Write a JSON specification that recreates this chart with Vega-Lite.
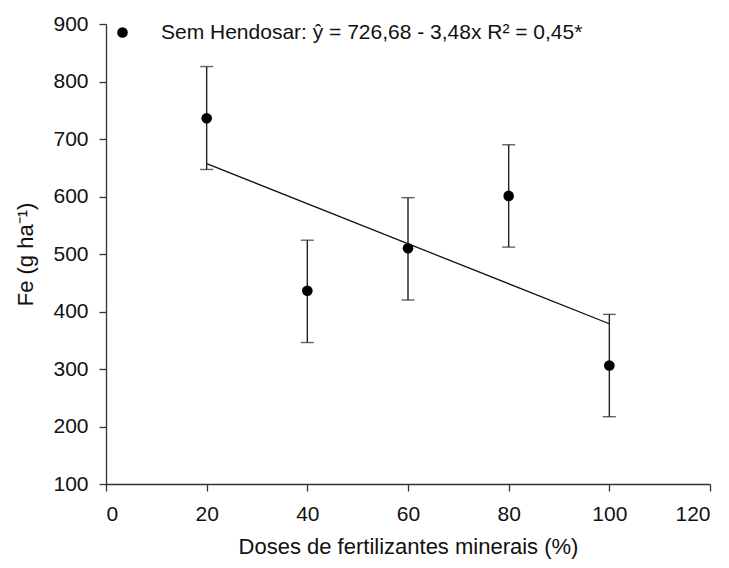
{
  "$schema": "https://vega.github.io/schema/vega-lite/v6.json",
  "width": 604,
  "height": 460,
  "autosize": "none",
  "padding": {"left": 106, "top": 24, "right": 19, "bottom": 84},
  "background": "white",
  "config": {
    "view": {"stroke": null},
    "font": "Liberation Sans",
    "axis": {
      "grid": false,
      "domainColor": "#333",
      "tickColor": "#333",
      "labelColor": "#111",
      "titleColor": "#111",
      "labelFontSize": 21,
      "titleFontSize": 22,
      "titleFontWeight": "normal",
      "tickSize": 7,
      "domainWidth": 1.3,
      "tickWidth": 1.3,
      "labelFont": "Liberation Sans",
      "titleFont": "Liberation Sans"
    }
  },
  "datasets": {
    "obs": [
      {"dose": 20, "fe": 736, "lo": 647, "hi": 826, "serie": "Sem Hendosar: ŷ = 726,68 - 3,48x R² = 0,45*"},
      {"dose": 40, "fe": 436, "lo": 346, "hi": 524, "serie": "Sem Hendosar: ŷ = 726,68 - 3,48x R² = 0,45*"},
      {"dose": 60, "fe": 510, "lo": 420, "hi": 598, "serie": "Sem Hendosar: ŷ = 726,68 - 3,48x R² = 0,45*"},
      {"dose": 80, "fe": 601, "lo": 512, "hi": 690, "serie": "Sem Hendosar: ŷ = 726,68 - 3,48x R² = 0,45*"},
      {"dose": 100, "fe": 306, "lo": 217, "hi": 395, "serie": "Sem Hendosar: ŷ = 726,68 - 3,48x R² = 0,45*"}
    ],
    "fit": [
      {"dose": 20, "fe": 657.08},
      {"dose": 100, "fe": 378.68}
    ]
  },
  "layer": [
    {
      "data": {"name": "fit"},
      "mark": {"type": "line", "color": "#111", "strokeWidth": 1.3},
      "encoding": {
        "x": {"field": "dose", "type": "quantitative", "scale": {"domain": [0, 120]}, "axis": {"values": [0, 20, 40, 60, 80, 100, 120], "title": "Doses de fertilizantes minerais (%)", "titlePadding": 12, "labelPadding": 12}},
        "y": {"field": "fe", "type": "quantitative", "scale": {"domain": [100, 900]}, "axis": {"values": [100, 200, 300, 400, 500, 600, 700, 800, 900], "title": "Fe (g ha⁻¹)", "titlePadding": 15, "labelPadding": 11}}
      }
    },
    {
      "data": {"name": "obs"},
      "mark": {"type": "rule", "color": "#222", "strokeWidth": 1.4},
      "encoding": {
        "x": {"field": "dose", "type": "quantitative"},
        "y": {"field": "lo", "type": "quantitative"},
        "y2": {"field": "hi"}
      }
    },
    {
      "data": {"name": "obs"},
      "mark": {"type": "tick", "orient": "horizontal", "color": "#222", "thickness": 1.4, "size": 13},
      "encoding": {
        "x": {"field": "dose", "type": "quantitative"},
        "y": {"field": "lo", "type": "quantitative"}
      }
    },
    {
      "data": {"name": "obs"},
      "mark": {"type": "tick", "orient": "horizontal", "color": "#222", "thickness": 1.4, "size": 13},
      "encoding": {
        "x": {"field": "dose", "type": "quantitative"},
        "y": {"field": "hi", "type": "quantitative"}
      }
    },
    {
      "data": {"name": "obs"},
      "mark": {"type": "point", "filled": true, "opacity": 1, "size": 113},
      "encoding": {
        "x": {"field": "dose", "type": "quantitative"},
        "y": {"field": "fe", "type": "quantitative"},
        "color": {
          "field": "serie", "type": "nominal",
          "scale": {"range": ["#000000"]},
          "legend": {
            "title": null,
            "orient": "none",
            "legendX": 6,
            "legendY": -2,
            "symbolType": "circle",
            "symbolSize": 113,
            "symbolOpacity": 1,
            "labelFontSize": 21,
            "labelFont": "Liberation Sans",
            "labelColor": "#111",
            "labelOffset": 28,
            "labelLimit": 700
          }
        }
      }
    }
  ]
}
